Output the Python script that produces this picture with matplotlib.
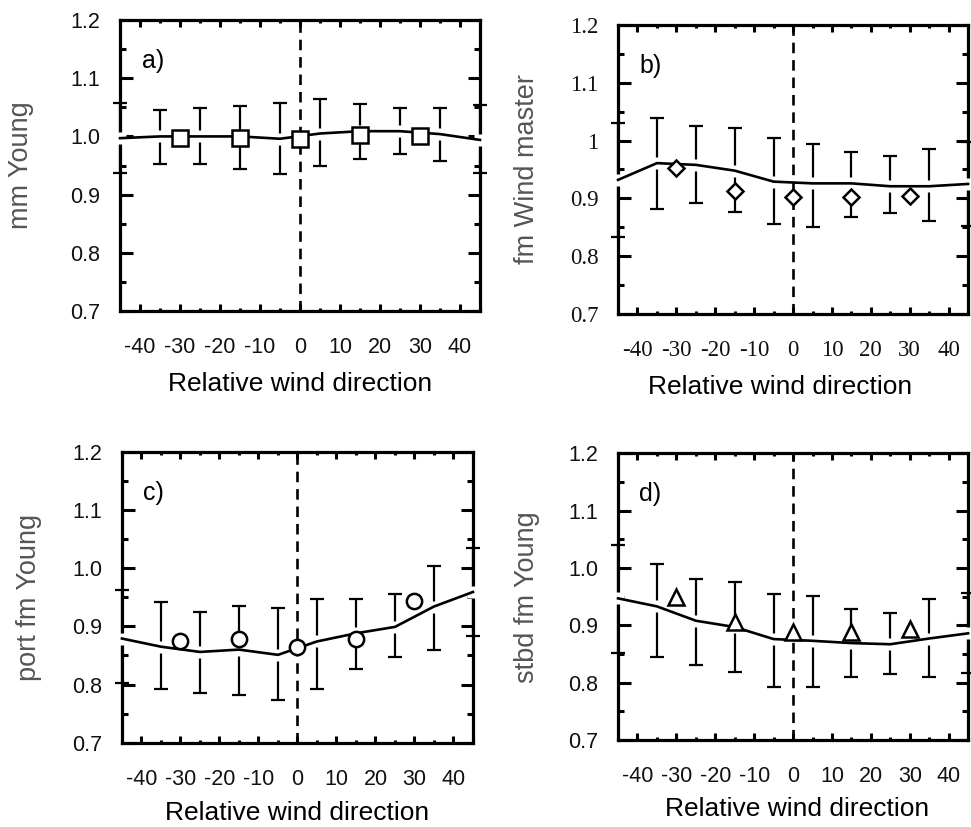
import matplotlib
matplotlib.use("Agg")
import matplotlib.pyplot as plt
from matplotlib.ticker import MultipleLocator, FixedFormatter, FixedLocator

plt.rcParams['font.family'] = ['Liberation Sans', 'DejaVu Sans']

# relative wind direction of the bins (error bars / line) and of the symbols
x_bins = [-45, -35, -25, -15, -5, 5, 15, 25, 35, 45]
x_pts = [-30, -15, 0, 15, 30]

# a) mm Young
line_a = [0.997, 1.000, 1.000, 1.000, 0.996, 1.005, 1.009, 1.009, 1.004, 0.994]
hi_a = [1.057, 1.045, 1.048, 1.052, 1.057, 1.065, 1.056, 1.048, 1.048, 1.054]
lo_a = [0.937, 0.953, 0.953, 0.944, 0.935, 0.949, 0.961, 0.970, 0.957, 0.937]
pts_a = [0.997, 0.997, 0.995, 1.002, 1.000]

# b) fm Wind master
line_b = [0.932, 0.961, 0.958, 0.948, 0.929, 0.926, 0.926, 0.921, 0.921, 0.925]
hi_b = [1.030, 1.039, 1.025, 1.021, 1.004, 0.994, 0.981, 0.973, 0.985, 0.998]
lo_b = [0.834, 0.881, 0.892, 0.877, 0.856, 0.850, 0.868, 0.874, 0.861, 0.852]
pts_b = [0.952, 0.912, 0.903, 0.903, 0.904]

# c) port fm Young
line_c = [0.879, 0.865, 0.856, 0.860, 0.851, 0.874, 0.888, 0.899, 0.934, 0.959]
hi_c = [0.962, 0.942, 0.925, 0.935, 0.931, 0.947, 0.947, 0.955, 1.004, 1.034]
lo_c = [0.802, 0.792, 0.786, 0.782, 0.773, 0.792, 0.827, 0.847, 0.860, 0.883]
pts_c = [0.875, 0.879, 0.865, 0.879, 0.943]

# d) stbd fm Young
line_d = [0.947, 0.933, 0.908, 0.897, 0.876, 0.873, 0.869, 0.867, 0.877, 0.886]
hi_d = [1.040, 1.007, 0.980, 0.976, 0.955, 0.951, 0.928, 0.921, 0.946, 0.957]
lo_d = [0.852, 0.844, 0.831, 0.819, 0.793, 0.792, 0.810, 0.815, 0.810, 0.817]
pts_d = [0.950, 0.906, 0.889, 0.889, 0.893]

xticks = [-40, -30, -20, -10, 0, 10, 20, 30, 40]
yticks = [0.7, 0.8, 0.9, 1.0, 1.1, 1.2]
ylab_sans = ['0.7', '0.8', '0.9', '1.0', '1.1', '1.2']
ylab_serif = ['0.7', '0.8', '0.9', '1', '1.1', '1.2']

fig = plt.figure(figsize=(9.71, 8.27), dpi=100)

panels = [
    # rect, tag, ylabel, line, hi, lo, pts, marker, ms, serif, ylabel x, xlabel x, xlabel y
    ([0.1236, 0.6239, 0.3707, 0.3519], 'a)', 'mm Young', line_a, hi_a, lo_a, pts_a, 's', 11, False, -0.24, 0.5, -0.21),
    ([0.6365, 0.6203, 0.3605, 0.3495], 'b)', 'fm Wind master', line_b, hi_b, lo_b, pts_b, 'D', 8.5, True, -0.223, 0.463, -0.21),
    ([0.1256, 0.1019, 0.3615, 0.3519], 'c)', 'port fm Young', line_c, hi_c, lo_c, pts_c, 'o', 11, False, -0.228, 0.5, -0.2),
    ([0.6365, 0.1052, 0.3605, 0.3467], 'd)', 'stbd fm Young', line_d, hi_d, lo_d, pts_d, '^', 11, False, -0.223, 0.511, -0.2),
]

for rect, tag, ylab, line, hi, lo, pts, mk, ms, serif, ylx, xlx, xly in panels:
    ax = fig.add_axes(rect)
    ax.set_xlim(-45, 45)
    ax.set_ylim(0.7, 1.2)

    yerr = [[m - l for m, l in zip(line, lo)], [h - m for h, m in zip(hi, line)]]
    ax.errorbar(x_bins, line, yerr=yerr, fmt='none', ecolor='black',
                elinewidth=1.6, capsize=4.8, capthick=1.6, clip_on=False, zorder=2)
    # gap in the bars where the mean line passes
    ax.plot(x_bins, line, ls='none', marker='s', ms=8.5, mfc='white', mec='none',
            clip_on=False, zorder=3)
    ax.plot(x_bins, line, color='black', lw=1.9, zorder=4, clip_on=False)
    ax.axvline(0, color='black', lw=1.9, dashes=(4, 2.6), zorder=4)
    ax.plot(x_pts, pts, ls='none', marker=mk, ms=ms, mfc='white', mec='black',
            mew=1.8, zorder=5)

    for s in ax.spines.values():
        s.set_linewidth(2.3)

    ax.xaxis.set_major_locator(FixedLocator(xticks))
    ax.xaxis.set_minor_locator(MultipleLocator(5))
    ax.yaxis.set_major_locator(FixedLocator(yticks))
    ax.yaxis.set_minor_locator(MultipleLocator(0.05))
    ax.yaxis.set_major_formatter(FixedFormatter(ylab_serif if serif else ylab_sans))
    ax.set_xticklabels([str(v) for v in xticks])

    ax.tick_params(which='both', direction='in', top=True, right=True, width=2.2)
    ax.tick_params(axis='x', which='major', length=5, pad=19)
    ax.tick_params(axis='x', which='minor', length=2.5)
    ax.tick_params(axis='y', which='major', length=9, pad=14)
    ax.tick_params(axis='y', which='minor', length=4.5)

    for lb in ax.get_xticklabels() + ax.get_yticklabels():
        lb.set_color('#111111')
        if serif:
            lb.set_family('Liberation Serif')
            lb.set_fontsize(16.5)
        else:
            lb.set_fontsize(15.5)

    ax.set_xlabel('Relative wind direction', fontsize=19)
    ax.xaxis.set_label_coords(xlx, xly)
    ax.set_ylabel(ylab, fontsize=19.5, color='#555555')
    ax.yaxis.set_label_coords(ylx, 0.5)

    ax.text(0.06, 0.9, tag, transform=ax.transAxes, fontsize=18,
            ha='left', va='top')

fig.savefig('out.png', dpi=100)
